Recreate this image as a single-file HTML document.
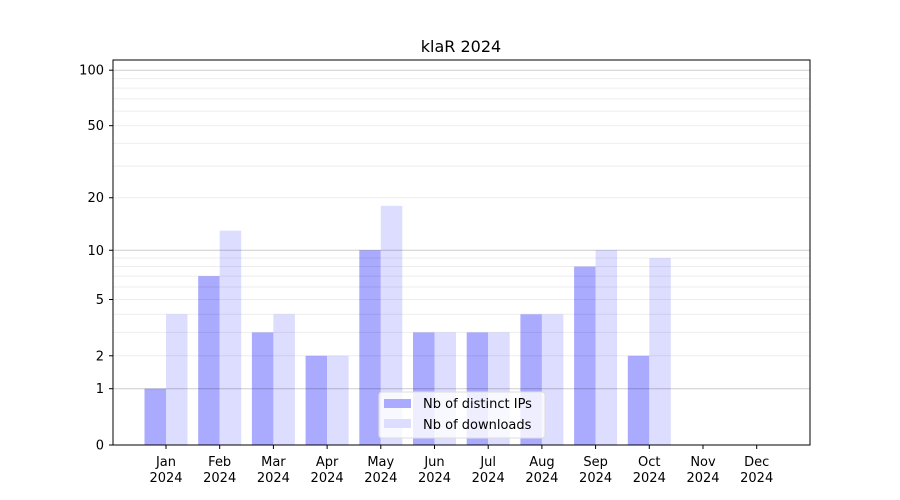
<!DOCTYPE html>
<html><head><meta charset="utf-8"><style>body{margin:0;background:#fff}svg{display:block}text{font-family:"DejaVu Sans","Liberation Sans",sans-serif;font-size:13px;fill:#000}</style></head><body>
<svg width="900" height="500" xmlns="http://www.w3.org/2000/svg">
<text x="461" y="52" text-anchor="middle" style="font-size:16px">klaR 2024</text>
<g id="bars"></g>
<g id="grid"></g>
<rect x="113" y="60" width="697" height="385" fill="none" stroke="#000" stroke-width="1"/>
<g id="ticks"></g>
<rect x="379" y="392" width="166" height="46" rx="3" fill="#fff" fill-opacity="0.8" stroke="#ddd"/>
<rect x="384" y="399" width="27" height="9" fill="#aaaaff"/>
<rect x="384" y="419" width="27" height="9" fill="#ddddff"/>
<text x="423" y="408">Nb of distinct IPs</text>
<text x="423" y="429">Nb of downloads</text>
</svg>
<script>
const NS="http://www.w3.org/2000/svg";
function Y(v){return 445-187*Math.log10(1+v);}
function el(p,t,a,txt){const e=document.createElementNS(NS,t);for(const k in a)e.setAttribute(k,a[k]);if(txt!==undefined)e.textContent=txt;document.getElementById(p).appendChild(e);}
const ips=[1,7,3,2,10,3,3,4,8,2,0,0],dl=[4,13,4,2,18,3,3,4,10,9,0,0];
const m=["Jan","Feb","Mar","Apr","May","Jun","Jul","Aug","Sep","Oct","Nov","Dec"];
for(let i=0;i<12;i++){const c=166+53.7*i;
if(ips[i])el("bars","rect",{x:c-21.5,y:Y(ips[i]),width:21.5,height:445-Y(ips[i]),fill:"#aaaaff"});
if(dl[i])el("bars","rect",{x:c,y:Y(dl[i]),width:21.5,height:445-Y(dl[i]),fill:"#ddddff"});
el("ticks","line",{x1:c,x2:c,y1:445,y2:449,stroke:"#000"});
el("ticks","text",{x:c,y:466,"text-anchor":"middle"},m[i]);
el("ticks","text",{x:c,y:482,"text-anchor":"middle"},"2024");}
[2,3,4,5,6,7,8,9,20,30,40,50,60,70,80,90].forEach(v=>el("grid","line",{x1:113,x2:810,y1:Y(v),y2:Y(v),stroke:"#000","stroke-opacity":0.07}));
[1,10,100].forEach(v=>el("grid","line",{x1:113,x2:810,y1:Y(v),y2:Y(v),stroke:"#000","stroke-opacity":0.2}));
[0,1,2,5,10,20,50,100].forEach(v=>{const y=Y(v);el("ticks","line",{x1:109,x2:113,y1:y,y2:y,stroke:"#000"});el("ticks","text",{x:104,y:y+4.5,"text-anchor":"end"},v);});
</script>
</body></html>
